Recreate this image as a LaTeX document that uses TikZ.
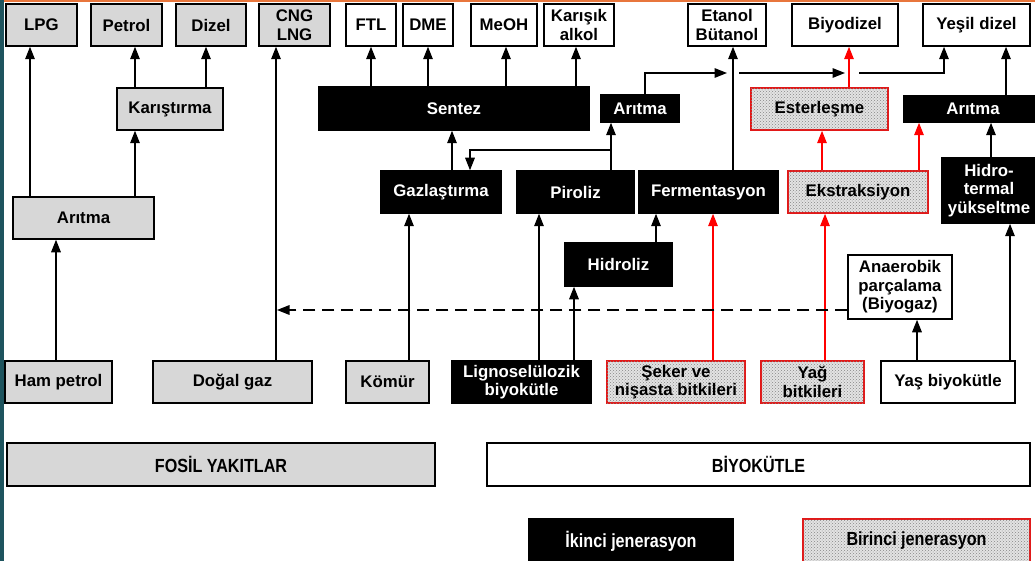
\documentclass[tikz,border=0pt]{standalone}
\usepackage{fontspec}
\setmainfont{Liberation Sans}
\newfontfamily\narrowfont[FakeStretch=0.85]{Liberation Sans}
\usetikzlibrary{arrows.meta,patterns}
\definecolor{boxgray}{RGB}{215,215,215}
\definecolor{edgeteal}{RGB}{30,84,94}
\definecolor{toporange}{RGB}{232,118,60}
\definecolor{genred}{RGB}{226,24,24}

\begin{document}
\begin{tikzpicture}[x=1pt,y=-1pt,
  sz/.style 2 args={minimum width=#1pt, minimum height=#2pt},
  base/.style={draw=black, line width=1.5pt, inner sep=0pt, align=center,
    font=\fontsize{16.8}{18.5}\selectfont\bfseries},
  graybox/.style={base, fill=boxgray},
  whitebox/.style={base, fill=white},
  blackbox/.style={base, fill=black, text=white},
  dotted fill/.style={fill=gray!22,
    postaction={pattern=crosshatch dots, pattern color=gray!95}},
  dotbox/.style={base, draw=genred, dotted fill},
  legend/.style={line width=1.5pt, inner sep=0pt, align=center,
    font=\fontsize{19}{21}\narrowfont\bfseries},
  arr/.style={line width=1.6pt, -{Triangle[length=12.5pt,width=9.5pt]}},
  redarr/.style={arr, draw=red},
  dasharr/.style={arr, dash pattern=on 12pt off 7pt}
]
\useasboundingbox (0,0) rectangle (1035,561);
\clip (0,0) rectangle (1035,561);

% frame accents
\fill[edgeteal] (0,0) rectangle (4,561);
\fill[toporange] (4,0) rectangle (1035,2);

% ---- products (top row)
\node[graybox, sz={71}{42}] (lpg)    at (41.5,25) {LPG};
\node[graybox, sz={71}{42}] (petrol) at (126.5,25) {Petrol};
\node[graybox, sz={70}{42}] (dizel)  at (211,25) {Dizel};
\node[graybox, sz={71}{42}] (cng)    at (294.5,25) {CNG\\LNG};
\node[whitebox, sz={50}{42}] (ftl)   at (371,25) {FTL};
\node[whitebox, sz={50}{42}] (dme)   at (428,25) {DME};
\node[whitebox, sz={66}{42}] (meoh)  at (504,25) {MeOH};
\node[whitebox, sz={70}{42}] (kalk)  at (579,25) {Karışık\\alkol};
\node[whitebox, sz={78}{42}] (etanol) at (727,25) {Etanol\\Bütanol};
\node[whitebox, sz={106}{42}] (biyod) at (845,25) {Biyodizel};
\node[whitebox, sz={107}{42}] (yesil) at (976.5,25) {Yeşil dizel};

% ---- upgrading steps
\node[graybox, sz={106}{42}] (karis) at (170,109) {Karıştırma};
\node[blackbox, sz={270}{43}] (sentez) at (454,108.5) {Sentez};
\node[blackbox, sz={78}{27}] (aritM) at (640,108.5) {Arıtma};
\node[dotbox, sz={137}{42}] (ester) at (819.5,109) {Esterleşme};
\node[blackbox, sz={138}{26}] (aritR) at (973,109) {Arıtma};

% ---- conversion steps
\node[graybox, sz={141}{42}] (aritL) at (83.5,218) {Arıtma};
\node[blackbox, sz={120}{42}] (gaz) at (441,192) {Gazlaştırma};
\node[blackbox, sz={117}{42}] (piro) at (575.5,192) {Piroliz};
\node[blackbox, sz={139}{42}] (ferm) at (708.5,192) {Fermentasyon};
\node[dotbox, sz={140}{42}] (ekst) at (858,192) {Ekstraksiyon};
\node[blackbox, sz={94}{65}] (hidrot) at (989,190.5) {Hidro-\\termal\\yükseltme};
\node[blackbox, sz={107}{43}] (hidrol) at (618.5,264.5) {Hidroliz};
\node[whitebox, sz={104}{64}] (anae) at (900,287) {Anaerobik\\parçalama\\(Biyogaz)};

% ---- feedstocks
\node[graybox, sz={107}{42}] (ham) at (58.5,382) {Ham petrol};
\node[graybox, sz={159}{42}] (dogal) at (232.5,382) {Doğal gaz};
\node[graybox, sz={83}{42}] (komur) at (387.5,382) {Kömür};
\node[blackbox, sz={139}{42}] (ligno) at (521.5,382) {Lignoselülozik\\biyokütle};
\node[dotbox, sz={138}{42}] (seker) at (676,382) {Şeker ve\\nişasta bitkileri};
\node[dotbox, sz={103}{42}] (yag) at (812.5,382) {Yağ\\bitkileri};
\node[whitebox, sz={134}{42}] (yas) at (948,382) {Yaş biyokütle};

% ---- group labels and legend
\node[legend, draw=black, fill=boxgray, sz={428}{43}] (fosil) at (221,464.5) {FOSİL YAKITLAR};
\node[legend, draw=black, fill=white, sz={543}{43}] (biyo) at (758.5,464.5) {BİYOKÜTLE};
\node[legend, draw=black, fill=black, text=white, sz={204}{44}] (ikinci) at (631,541) {İkinci jenerasyon};
\node[legend, draw=genred, dotted fill, sz={227}{44}] (birinci) at (916.5,541) {Birinci jenerasyon};

% ---- fossil routes
\draw[arr] (aritL.north -| 30,0) -- (lpg.south -| 30,0);
\draw[arr] (aritL.north -| 135,0) -- (karis.south -| 135,0);
\draw[arr] (karis.north -| 135,0) -- (petrol.south -| 135,0);
\draw[arr] (karis.north -| 206,0) -- (dizel.south -| 206,0);
\draw[arr] (ham.north -| 56,0) -- (aritL.south -| 56,0);
\draw[arr] (dogal.north -| 276,0) -- (cng.south -| 276,0);
\draw[arr] (komur.north -| 409,0) -- (gaz.south -| 409,0);

% ---- synthesis routes
\draw[arr] (gaz.north -| 452,0) -- (sentez.south -| 452,0);
\draw[arr] (sentez.north -| 371,0) -- (ftl.south -| 371,0);
\draw[arr] (sentez.north -| 428,0) -- (dme.south -| 428,0);
\draw[arr] (sentez.north -| 506,0) -- (meoh.south -| 506,0);
\draw[arr] (sentez.north -| 576,0) -- (kalk.south -| 576,0);

% ---- pyrolysis and refining
\draw[arr] (piro.north -| 611,0) -- (aritM.south -| 611,0);
\coordinate (branch) at (611,150);
\draw[arr] (branch) -- (470,150) -- (gaz.north -| 470,0);
\coordinate (m1) at (727,73);
\coordinate (m2) at (739,73);
\coordinate (m3) at (845,73);
\coordinate (m4) at (859,73);
\draw[arr] (aritM.north -| 645,0) -- (645,73) -- (m1);
\draw[arr] (m2) -- (m3);
\draw[arr] (m4) -- (944,73) -- (yesil.south -| 944,0);

% ---- biochemical routes
\draw[arr] (ferm.north -| 733,0) -- (etanol.south -| 733,0);
\draw[arr] (ligno.north -| 539,0) -- (piro.south -| 539,0);
\draw[arr] (ligno.north -| 574,0) -- (hidrol.south -| 574,0);
\draw[arr] (hidrol.north -| 656,0) -- (ferm.south -| 656,0);
\draw[redarr] (seker.north -| 713,0) -- (ferm.south -| 713,0);
\draw[redarr] (yag.north -| 825,0) -- (ekst.south -| 825,0);
\draw[redarr] (ekst.north -| 822,0) -- (ester.south -| 822,0);
\draw[redarr] (ekst.north -| 919,0) -- (aritR.south -| 919,0);
\draw[redarr] (ester.north -| 849,0) -- (biyod.south -| 849,0);

% ---- wet biomass routes
\draw[arr] (aritR.north -| 1006,0) -- (yesil.south -| 1006,0);
\draw[arr] (hidrot.north -| 991,0) -- (aritR.south -| 991,0);
\draw[arr] (yas.north -| 1010,0) -- (hidrot.south -| 1010,0);
\draw[arr] (yas.north -| 917,0) -- (anae.south -| 917,0);
\draw[dasharr] (anae.west |- 0,310) -- (277,310);
\end{tikzpicture}
\end{document}
